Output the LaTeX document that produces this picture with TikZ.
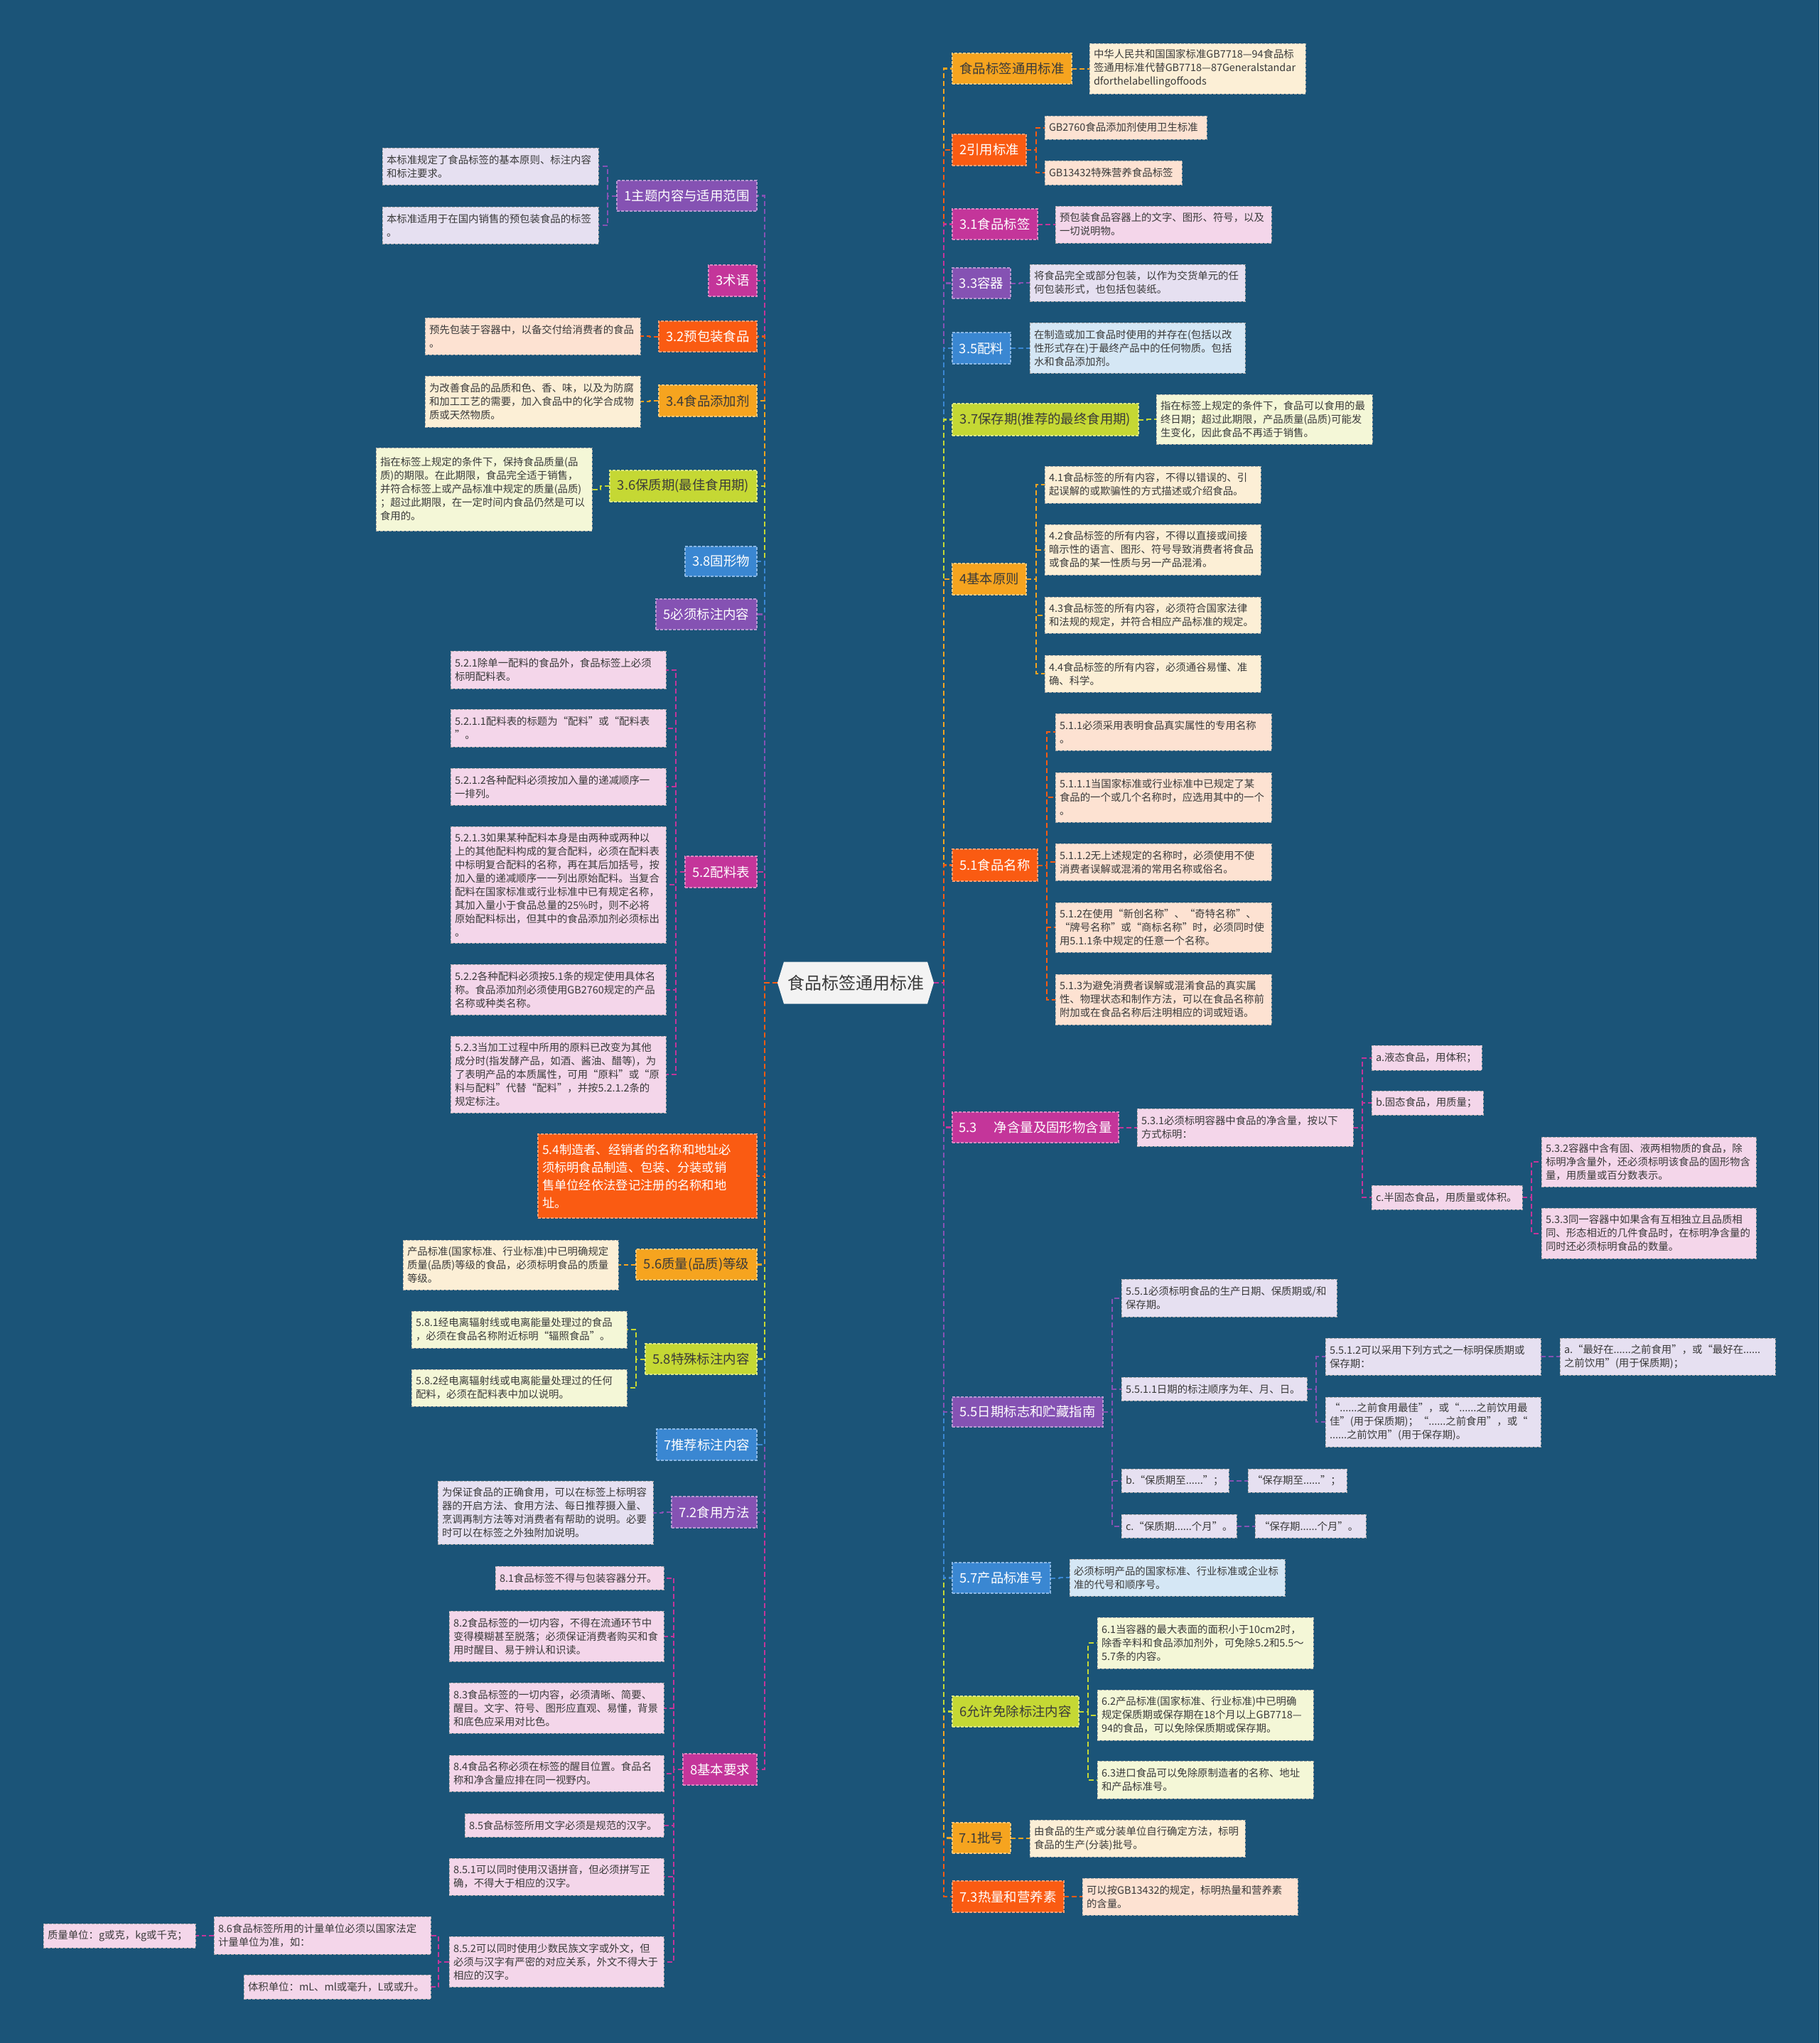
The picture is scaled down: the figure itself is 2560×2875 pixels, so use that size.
\documentclass[tikz,border=0pt]{standalone}
\usepackage{fontspec}
\setmainfont{Noto Sans CJK SC}
\usetikzlibrary{shapes.symbols}
\hyphenpenalty=10000 \exhyphenpenalty=10000
\definecolor{bgc}{HTML}{1B5478}
\definecolor{rootc}{HTML}{F3F3F3}
\definecolor{tdark}{HTML}{3A3A3A}
\definecolor{corange}{HTML}{F6A41F}
\definecolor{cred}{HTML}{FA5B12}
\definecolor{cmag}{HTML}{C4359A}
\definecolor{cpur}{HTML}{8552B3}
\definecolor{cblue}{HTML}{3A87D2}
\definecolor{clime}{HTML}{C5D834}
\definecolor{torange}{HTML}{FCEFD6}
\definecolor{tred}{HTML}{FDE2D2}
\definecolor{tmag}{HTML}{F4D6EA}
\definecolor{tpur}{HTML}{E6E0F1}
\definecolor{tblue}{HTML}{D5E7F5}
\definecolor{tlime}{HTML}{F4F7D7}
\pgfdeclarelayer{bglayer}
\pgfsetlayers{bglayer,main}
\tikzset{
  con/.style={draw=#1, dash pattern=on 7pt off 4pt, line width=2pt},
  spine/.style={draw=#1, dash pattern=on 7pt off 4pt, line width=2.6pt},
  mb/.style 2 args={fill=#1, draw=#1!60!white, dash pattern=on 4pt off 2pt, line width=1.2pt, text=#2, font=\fontsize{18.4}{25}\selectfont, align=center, inner xsep=6pt, inner ysep=2pt, outer sep=0pt},
  sb/.style={fill=#1, draw=black!35, dash pattern=on 4pt off 2pt, line width=1pt, text=tdark, font=\fontsize{14.4}{19}\selectfont, align=left, inner xsep=6pt, inner ysep=2pt, outer sep=0pt},
  mO/.style={mb={corange}{tdark}}, mR/.style={mb={cred}{white}}, mM/.style={mb={cmag}{white}},
  mP/.style={mb={cpur}{white}}, mB/.style={mb={cblue}{white}}, mL/.style={mb={clime}{tdark}},
  sO/.style={sb=torange}, sR/.style={sb=tred}, sM/.style={sb=tmag},
  sP/.style={sb=tpur}, sB/.style={sb=tblue}, sL/.style={sb=tlime},
}
\newcommand\bx[7]{%
  \pgfmathsetmacro\bxW{#5-#3}%
  \pgfmathsetmacro\bxH{#6-#4}%
  \pgfmathsetmacro\bxT{#5-#3-12}%
  \pgfmathsetmacro\bxX{(#3+#5)/2}%
  \pgfmathsetmacro\bxY{(#4+#6)/2}%
  \node[#2, minimum width=\bxW pt, minimum height=\bxH pt, text width=\bxT pt] (#1) at (\bxX,\bxY) {#7};%
}
\newcommand\cR[5][con]{\coordinate (cm) at (#5,0); \draw[#1=#2] (#3.east) -- (#3.east -| cm) |- (#4.west);}
\newcommand\cL[5][con]{\coordinate (cm) at (#5,0); \draw[#1=#2] (#3.west) -- (#3.west -| cm) |- (#4.east);}
\begin{document}
\begin{tikzpicture}[x=1pt,y=-1pt]
\begin{pgfonlayer}{bglayer}
\fill[bgc] (0,0) rectangle (2560,2875);
\end{pgfonlayer}

\node[signal, signal to=west and east, signal pointer angle=146, fill=rootc, text=tdark, font=\fontsize{24}{28}\selectfont, minimum height=59pt, inner xsep=5pt, outer sep=0pt] (root) at (1204,1383) {食品标签通用标准};

% ---------------- right side ----------------
\bx{R1}{mO}{1340}{75}{1508}{118}{食品标签通用标准}
\bx{R1a}{sO}{1533}{61}{1837}{132}{中华人民共和国国家标准GB7718—94食品标\\签通用标准代替GB7718—87Generalstandar\\dforthelabellingoffoods}
\bx{R2}{mR}{1340}{189}{1444}{233}{2引用标准}
\bx{R2a}{sR}{1470}{163}{1698}{196}{GB2760食品添加剂使用卫生标准}
\bx{R2b}{sR}{1470}{226}{1663}{260}{GB13432特殊营养食品标签}
\bx{R3}{mM}{1340}{294}{1460}{337}{3.1食品标签}
\bx{R3a}{sM}{1485}{290}{1789}{342}{预包装食品容器上的文字、图形、符号，以及\\一切说明物。}
\bx{R4}{mP}{1340}{377}{1422}{420}{3.3容器}
\bx{R4a}{sP}{1449}{372}{1752}{424}{将食品完全或部分包装，以作为交货单元的任\\何包装形式，也包括包装纸。}
\bx{R5}{mB}{1340}{468}{1422}{512}{3.5配料}
\bx{R5a}{sB}{1449}{454}{1752}{525}{在制造或加工食品时使用的并存在(包括以改\\性形式存在)于最终产品中的任何物质。包括\\水和食品添加剂。}
\bx{R6}{mL}{1340}{568}{1602}{613}{3.7保存期(推荐的最终食用期)}
\bx{R6a}{sL}{1627}{555}{1931}{625}{指在标签上规定的条件下，食品可以食用的最\\终日期；超过此期限，产品质量(品质)可能发\\生变化，因此食品不再适于销售。}
\bx{R7}{mO}{1340}{793}{1444}{837}{4基本原则}
\bx{R7a}{sO}{1470}{656}{1774}{708}{4.1食品标签的所有内容，不得以错误的、引\\起误解的或欺骗性的方式描述或介绍食品。}
\bx{R7b}{sO}{1470}{738}{1774}{809}{4.2食品标签的所有内容，不得以直接或间接\\暗示性的语言、图形、符号导致消费者将食品\\或食品的某一性质与另一产品混淆。}
\bx{R7c}{sO}{1470}{840}{1774}{891}{4.3食品标签的所有内容，必须符合国家法律\\和法规的规定，并符合相应产品标准的规定。}
\bx{R7d}{sO}{1470}{922}{1774}{974}{4.4食品标签的所有内容，必须通谷易懂、准\\确、科学。}
\bx{R8}{mR}{1340}{1195}{1460}{1240}{5.1食品名称}
\bx{R8a}{sR}{1485}{1004}{1789}{1056}{5.1.1必须采用表明食品真实属性的专用名称\\。}
\bx{R8b}{sR}{1485}{1087}{1789}{1157}{5.1.1.1当国家标准或行业标准中已规定了某\\食品的一个或几个名称时，应选用其中的一个\\。}
\bx{R8c}{sR}{1485}{1187}{1789}{1239}{5.1.1.2无上述规定的名称时，必须使用不使\\消费者误解或混淆的常用名称或俗名。}
\bx{R8d}{sR}{1485}{1270}{1789}{1340}{5.1.2在使用“新创名称”、“奇特名称”、\\“牌号名称”或“商标名称”时，必须同时使\\用5.1.1条中规定的任意一个名称。}
\bx{R8e}{sR}{1485}{1371}{1789}{1442}{5.1.3为避免消费者误解或混淆食品的真实属\\性、物理状态和制作方法，可以在食品名称前\\附加或在食品名称后注明相应的词或短语。}
\bx{R9}{mM}{1340}{1565}{1574}{1608}{5.3\hspace{1.3em}净含量及固形物含量}
\bx{R9a}{sM}{1600}{1560}{1904}{1613}{5.3.1必须标明容器中食品的净含量，按以下\\方式标明：}
\bx{R9b}{sM}{1930}{1471}{2085}{1506}{a.液态食品，用体积；}
\bx{R9c}{sM}{1930}{1535}{2087}{1569}{b.固态食品，用质量；}
\bx{R9d}{sM}{1930}{1668}{2142}{1702}{c.半固态食品，用质量或体积。}
\bx{R9e}{sM}{2169}{1600}{2471}{1670}{5.3.2容器中含有固、液两相物质的食品，除\\标明净含量外，还必须标明该食品的固形物含\\量，用质量或百分数表示。}
\bx{R9f}{sM}{2169}{1700}{2471}{1771}{5.3.3同一容器中如果含有互相独立且品质相\\同、形态相近的几件食品时，在标明净含量的\\同时还必须标明食品的数量。}
\bx{R10}{mP}{1340}{1966}{1552}{2008}{5.5日期标志和贮藏指南}
\bx{R10a}{sP}{1578}{1800}{1881}{1853}{5.5.1必须标明食品的生产日期、保质期或/和\\保存期。}
\bx{R10b}{sP}{1578}{1938}{1839}{1971}{5.5.1.1日期的标注顺序为年、月、日。}
\bx{R10c}{sP}{1865}{1883}{2168}{1935}{5.5.1.2可以采用下列方式之一标明保质期或\\保存期：}
\bx{R10d}{sP}{2195}{1883}{2498}{1935}{a.“最好在......之前食用”，或“最好在......\\之前饮用”(用于保质期)；}
\bx{R10e}{sP}{1865}{1966}{2168}{2036}{“......之前食用最佳”，或“......之前饮用最\\佳”(用于保质期)；“......之前食用”，或“\\......之前饮用”(用于保存期)。}
\bx{R10f}{sP}{1578}{2067}{1729}{2100}{b.“保质期至......”；}
\bx{R10g}{sP}{1756}{2067}{1895}{2100}{“保存期至......”；}
\bx{R10h}{sP}{1578}{2131}{1740}{2164}{c.“保质期......个月”。}
\bx{R10i}{sP}{1766}{2131}{1922}{2164}{“保存期......个月”。}
\bx{R11}{mB}{1340}{2199}{1478}{2242}{5.7产品标准号}
\bx{R11a}{sB}{1505}{2194}{1808}{2246}{必须标明产品的国家标准、行业标准或企业标\\准的代号和顺序号。}
\bx{R12}{mL}{1340}{2387}{1518}{2430}{6允许免除标注内容}
\bx{R12a}{sL}{1544}{2276}{1848}{2348}{6.1当容器的最大表面的面积小于10cm2时，\\除香辛料和食品添加剂外，可免除5.2和5.5～\\5.7条的内容。}
\bx{R12b}{sL}{1544}{2378}{1848}{2449}{6.2产品标准(国家标准、行业标准)中已明确\\规定保质期或保存期在18个月以上GB7718—\\94的食品，可以免除保质期或保存期。}
\bx{R12c}{sL}{1544}{2478}{1848}{2531}{6.3进口食品可以免除原制造者的名称、地址\\和产品标准号。}
\bx{R13}{mO}{1340}{2565}{1422}{2608}{7.1批号}
\bx{R13a}{sO}{1449}{2561}{1752}{2613}{由食品的生产或分装单位自行确定方法，标明\\食品的生产(分装)批号。}
\bx{R14}{mR}{1340}{2647}{1497}{2691}{7.3热量和营养素}
\bx{R14a}{sR}{1523}{2643}{1826}{2695}{可以按GB13432的规定，标明热量和营养素\\的含量。}

% ---------------- left side ----------------
\bx{L1}{mP}{868}{254}{1065}{297}{1主题内容与适用范围}
\bx{L1a}{sP}{538}{208}{842}{260}{本标准规定了食品标签的基本原则、标注内容\\和标注要求。}
\bx{L1b}{sP}{538}{291}{842}{343}{本标准适用于在国内销售的预包装食品的标签\\。}
\bx{L2}{mM}{997}{373}{1065}{417}{3术语}
\bx{L3}{mR}{927}{452}{1065}{495}{3.2预包装食品}
\bx{L3a}{sR}{598}{447}{901}{499}{预先包装于容器中，以备交付给消费者的食品\\。}
\bx{L4}{mO}{927}{542}{1065}{586}{3.4食品添加剂}
\bx{L4a}{sO}{598}{529}{901}{601}{为改善食品的品质和色、香、味，以及为防腐\\和加工工艺的需要，加入食品中的化学合成物\\质或天然物质。}
\bx{L5}{mL}{858}{662}{1065}{706}{3.6保质期(最佳食用期)}
\bx{L5a}{sL}{529}{630}{833}{747}{指在标签上规定的条件下，保持食品质量(品\\质)的期限。在此期限，食品完全适于销售，\\并符合标签上或产品标准中规定的质量(品质)\\；超过此期限，在一定时间内食品仍然是可以\\食用的。}
\bx{L6}{mB}{964}{769}{1065}{811}{3.8固形物}
\bx{L7}{mP}{923}{843}{1065}{886}{5必须标注内容}
\bx{L8}{mM}{964}{1205}{1065}{1249}{5.2配料表}
\bx{L8a}{sM}{634}{916}{937}{969}{5.2.1除单一配料的食品外，食品标签上必须\\标明配料表。}
\bx{L8b}{sM}{634}{998}{937}{1051}{5.2.1.1配料表的标题为“配料”或“配料表\\”。}
\bx{L8c}{sM}{634}{1081}{937}{1133}{5.2.1.2各种配料必须按加入量的递减顺序一\\一排列。}
\bx{L8d}{sM}{634}{1163}{937}{1327}{5.2.1.3如果某种配料本身是由两种或两种以\\上的其他配料构成的复合配料，必须在配料表\\中标明复合配料的名称，再在其后加括号，按\\加入量的递减顺序一一列出原始配料。当复合\\配料在国家标准或行业标准中已有规定名称，\\其加入量小于食品总量的25\%时，则不必将\\原始配料标出，但其中的食品添加剂必须标出\\。}
\bx{L8e}{sM}{634}{1357}{937}{1428}{5.2.2各种配料必须按5.1条的规定使用具体名\\称。食品添加剂必须使用GB2760规定的产品\\名称或种类名称。}
\bx{L8f}{sM}{634}{1458}{937}{1566}{5.2.3当加工过程中所用的原料已改变为其他\\成分时(指发酵产品，如酒、酱油、醋等)，为\\了表明产品的本质属性，可用“原料”或“原\\料与配料”代替“配料”，并按5.2.1.2条的\\规定标注。}
\bx{L9}{mR, align=left, font=\fontsize{17.3}{25}\selectfont}{757}{1596}{1065}{1714}{5.4制造者、经销者的名称和地址必\\须标明食品制造、包装、分装或销\\售单位经依法登记注册的名称和地\\址。}
\bx{L10}{mO}{895}{1758}{1065}{1801}{5.6质量(品质)等级}
\bx{L10a}{sO}{567}{1745}{870}{1815}{产品标准(国家标准、行业标准)中已明确规定\\质量(品质)等级的食品，必须标明食品的质量\\等级。}
\bx{L11}{mL}{908}{1891}{1065}{1934}{5.8特殊标注内容}
\bx{L11a}{sL}{579}{1845}{882}{1897}{5.8.1经电离辐射线或电离能量处理过的食品\\，必须在食品名称附近标明“辐照食品”。}
\bx{L11b}{sL}{579}{1927}{882}{1979}{5.8.2经电离辐射线或电离能量处理过的任何\\配料，必须在配料表中加以说明。}
\bx{L12}{mB}{924}{2011}{1065}{2055}{7推荐标注内容}
\bx{L13}{mP}{945}{2106}{1065}{2150}{7.2食用方法}
\bx{L13a}{sP}{616}{2084}{919}{2173}{为保证食品的正确食用，可以在标签上标明容\\器的开启方法、食用方法、每日推荐摄入量、\\烹调再制方法等对消费者有帮助的说明。必要\\时可以在标签之外独附加说明。}
\bx{L14}{mM}{961}{2468}{1065}{2512}{8基本要求}
\bx{L14a}{sM}{697}{2204}{934}{2237}{8.1食品标签不得与包装容器分开。}
\bx{L14b}{sM}{632}{2267}{934}{2338}{8.2食品标签的一切内容，不得在流通环节中\\变得模糊甚至脱落；必须保证消费者购买和食\\用时醒目、易于辨认和识读。}
\bx{L14c}{sM}{632}{2368}{934}{2439}{8.3食品标签的一切内容，必须清晰、简要、\\醒目。文字、符号、图形应直观、易懂，背景\\和底色应采用对比色。}
\bx{L14d}{sM}{632}{2470}{934}{2521}{8.4食品名称必须在标签的醒目位置。食品名\\称和净含量应排在同一视野内。}
\bx{L14e}{sM}{654}{2552}{934}{2585}{8.5食品标签所用文字必须是规范的汉字。}
\bx{L14f}{sM}{632}{2615}{934}{2667}{8.5.1可以同时使用汉语拼音，但必须拼写正\\确，不得大于相应的汉字。}
\bx{L14g}{sM}{632}{2725}{934}{2796}{8.5.2可以同时使用少数民族文字或外文，但\\必须与汉字有严密的对应关系，外文不得大于\\相应的汉字。}
\bx{L14h}{sM}{301}{2697}{606}{2750}{8.6食品标签所用的计量单位必须以国家法定\\计量单位为准，如：}
\bx{L14i}{sM}{61}{2707}{275}{2741}{质量单位：g或克，kg或千克；}
\bx{L14j}{sM}{343}{2779}{606}{2813}{体积单位：mL、ml或毫升，L或或升。}

% ---------------- connectors ----------------
\begin{pgfonlayer}{bglayer}
% right spine, above then below (farthest first)
\cR[spine]{corange}{root}{R1}{1328}
\cR[spine]{cred}{root}{R2}{1328}
\cR[spine]{cmag}{root}{R3}{1328}
\cR[spine]{cpur}{root}{R4}{1328}
\cR[spine]{cblue}{root}{R5}{1328}
\cR[spine]{clime}{root}{R6}{1328}
\cR[spine]{corange}{root}{R7}{1328}
\cR[spine]{cred}{root}{R8}{1328}
\cR[spine]{cred}{root}{R14}{1328}
\cR[spine]{corange}{root}{R13}{1328}
\cR[spine]{clime}{root}{R12}{1328}
\cR[spine]{cblue}{root}{R11}{1328}
\cR[spine]{cpur}{root}{R10}{1328}
\cR[spine]{cmag}{root}{R9}{1328}
% left spine
\cL[spine]{cpur}{root}{L1}{1076}
\cL[spine]{cmag}{root}{L2}{1076}
\cL[spine]{cred}{root}{L3}{1076}
\cL[spine]{corange}{root}{L4}{1076}
\cL[spine]{clime}{root}{L5}{1076}
\cL[spine]{cblue}{root}{L6}{1076}
\cL[spine]{cpur}{root}{L7}{1076}
\cL[spine]{cmag}{root}{L8}{1076}
\cL[spine]{cmag}{root}{L14}{1076}
\cL[spine]{cpur}{root}{L13}{1076}
\cL[spine]{cblue}{root}{L12}{1076}
\cL[spine]{clime}{root}{L11}{1076}
\cL[spine]{corange}{root}{L10}{1076}
\cL[spine]{cred}{root}{L9}{1076}
% right sub-branches
\cR{corange}{R1}{R1a}{1520}
\cR{cred}{R2}{R2a}{1458}
\cR{cred}{R2}{R2b}{1458}
\cR{cmag}{R3}{R3a}{1472}
\cR{cpur}{R4}{R4a}{1435}
\cR{cblue}{R5}{R5a}{1435}
\cR{clime}{R6}{R6a}{1614}
\cR{corange}{R7}{R7a}{1458}
\cR{corange}{R7}{R7b}{1458}
\cR{corange}{R7}{R7c}{1458}
\cR{corange}{R7}{R7d}{1458}
\cR{cred}{R8}{R8a}{1473}
\cR{cred}{R8}{R8b}{1473}
\cR{cred}{R8}{R8c}{1473}
\cR{cred}{R8}{R8d}{1473}
\cR{cred}{R8}{R8e}{1473}
\cR{cmag}{R9}{R9a}{1587}
\cR{cmag}{R9a}{R9b}{1917}
\cR{cmag}{R9a}{R9c}{1917}
\cR{cmag}{R9a}{R9d}{1917}
\cR{cmag}{R9d}{R9e}{2155}
\cR{cmag}{R9d}{R9f}{2155}
\cR{cpur}{R10}{R10a}{1565}
\cR{cpur}{R10}{R10b}{1565}
\cR{cpur}{R10}{R10f}{1565}
\cR{cpur}{R10}{R10h}{1565}
\cR{cpur}{R10b}{R10c}{1852}
\cR{cpur}{R10b}{R10e}{1852}
\cR{cpur}{R10c}{R10d}{2181}
\cR{cpur}{R10f}{R10g}{1742}
\cR{cpur}{R10h}{R10i}{1753}
\cR{cblue}{R11}{R11a}{1491}
\cR{clime}{R12}{R12a}{1531}
\cR{clime}{R12}{R12b}{1531}
\cR{clime}{R12}{R12c}{1531}
\cR{corange}{R13}{R13a}{1435}
\cR{cred}{R14}{R14a}{1510}
% left sub-branches
\cL{cpur}{L1}{L1a}{855}
\cL{cpur}{L1}{L1b}{855}
\cL{cred}{L3}{L3a}{914}
\cL{corange}{L4}{L4a}{914}
\cL{clime}{L5}{L5a}{845}
\cL{cmag}{L8}{L8a}{951}
\cL{cmag}{L8}{L8b}{951}
\cL{cmag}{L8}{L8c}{951}
\cL{cmag}{L8}{L8d}{951}
\cL{cmag}{L8}{L8e}{951}
\cL{cmag}{L8}{L8f}{951}
\cL{corange}{L10}{L10a}{882}
\cL{clime}{L11}{L11a}{895}
\cL{clime}{L11}{L11b}{895}
\cL{cpur}{L13}{L13a}{932}
\cL{cmag}{L14}{L14a}{948}
\cL{cmag}{L14}{L14b}{948}
\cL{cmag}{L14}{L14c}{948}
\cL{cmag}{L14}{L14d}{948}
\cL{cmag}{L14}{L14e}{948}
\cL{cmag}{L14}{L14f}{948}
\cL{cmag}{L14}{L14g}{948}
\cL{cmag}{L14g}{L14h}{617}
\cL{cmag}{L14g}{L14j}{617}
\cL{cmag}{L14h}{L14i}{288}
\end{pgfonlayer}
\end{tikzpicture}
\end{document}
